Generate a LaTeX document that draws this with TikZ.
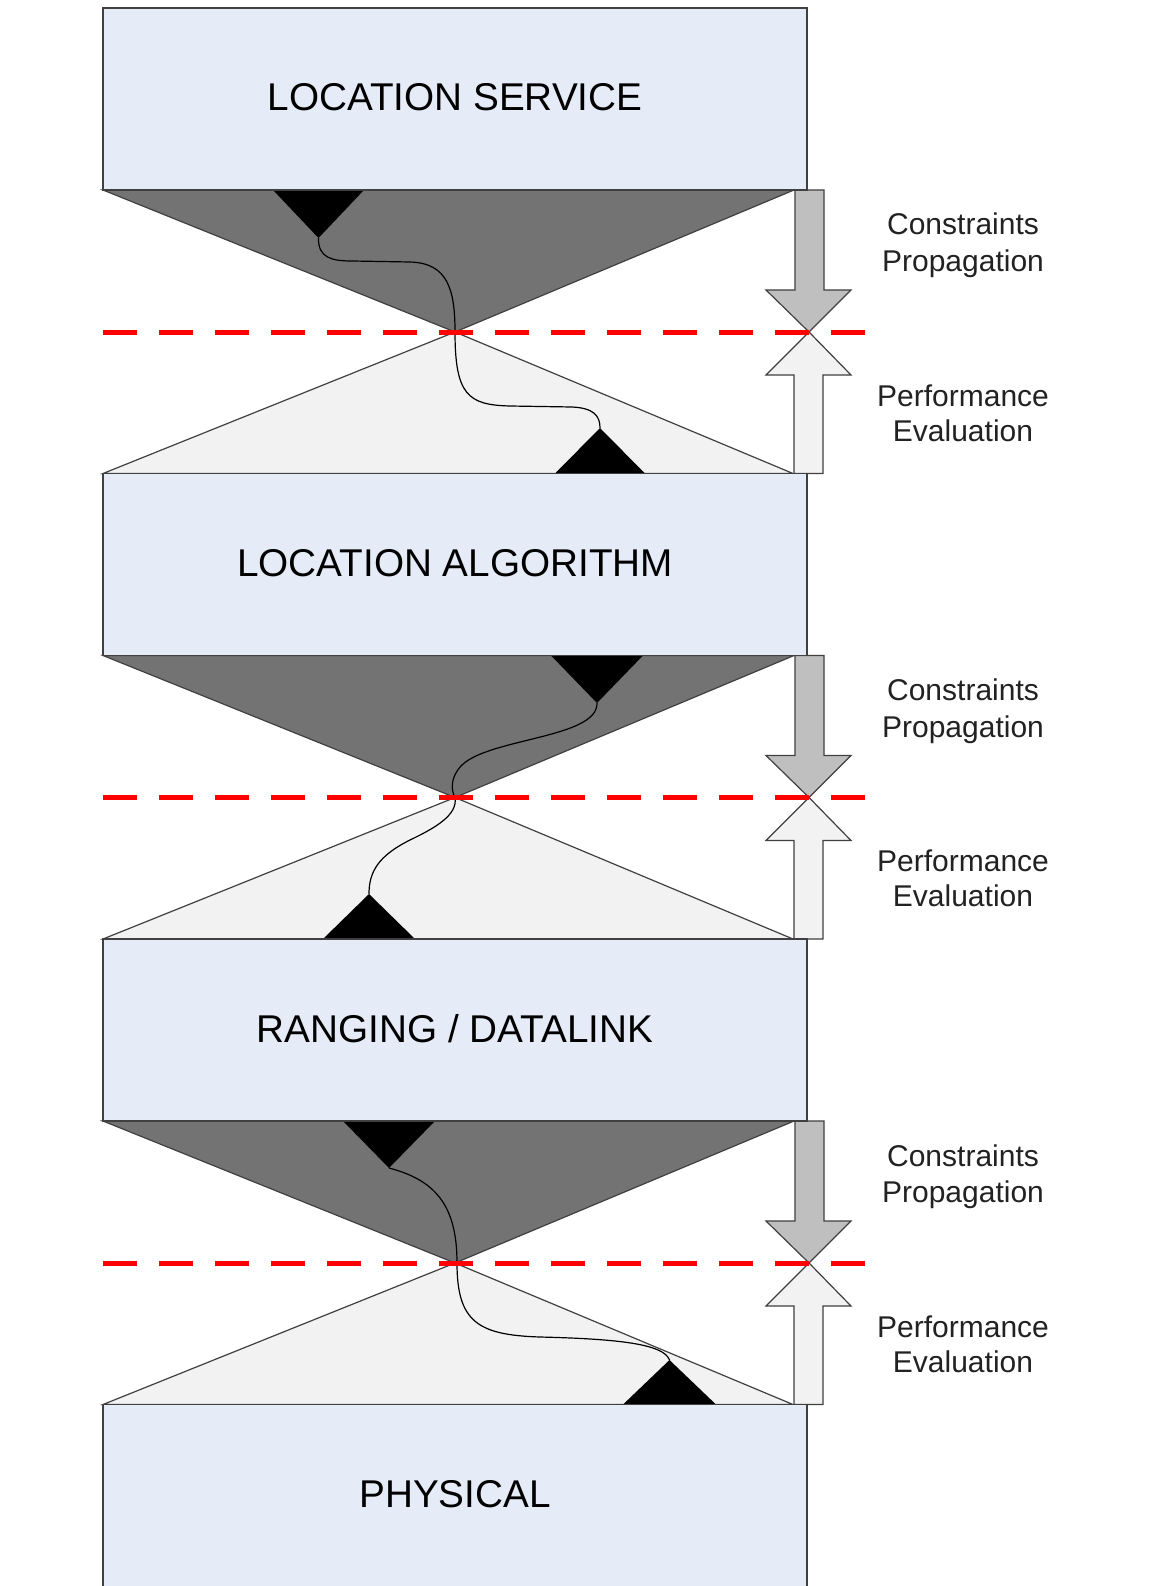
\documentclass[tikz,border=0pt]{standalone}
\usepackage{fontspec}
\setmainfont{Liberation Sans}
\definecolor{boxblue}{RGB}{230,236,247}
\definecolor{darktri}{RGB}{115,115,115}
\definecolor{lighttri}{RGB}{242,242,242}
\definecolor{downarr}{RGB}{191,191,191}
\definecolor{edgegray}{RGB}{64,64,64}
\definecolor{labelgray}{RGB}{34,34,34}
\tikzset{
  layerbox/.style={draw=edgegray, line width=1.5pt, fill=boxblue, rectangle, inner sep=0pt, minimum width=704pt, minimum height=182pt},
  layertext/.style={anchor=base, inner sep=0pt, font=\fontsize{38.7}{46}\selectfont, text=black},
  sidetext/.style={anchor=base, inner sep=0pt, font=\fontsize{30}{36}\selectfont, text=labelgray},
  darkfan/.style={draw=edgegray, line width=1.2pt, fill=darktri, line join=miter},
  lightfan/.style={draw=edgegray, line width=1.2pt, fill=lighttri, line join=miter},
  blacktri/.style={fill=black, draw=none},
  pathcurve/.style={draw=black, line width=1.2pt},
  downarrow/.style={draw=edgegray, line width=1.2pt, fill=downarr, line join=miter},
  uparrow/.style={draw=edgegray, line width=1.2pt, fill=lighttri, line join=miter},
  redline/.style={draw=red, line width=5pt, dash pattern=on 34pt off 22pt}
}
\begin{document}
\begin{tikzpicture}[x=1pt,y=-1pt]
\useasboundingbox (0,0) rectangle (1149,1586);
\clip (0,0) rectangle (1149,1586);
\fill[white] (0,0) rectangle (1149,1586);

% ---------- fans (triangles) ----------
% section 1
\path[darkfan] (103,190) -- (794,190) -- (455,332) -- cycle;
\path[lightfan] (455,332) -- (793,473.5) -- (103,473.5) -- cycle;
% section 2
\path[darkfan] (103,655.5) -- (794,655.5) -- (455,797.5) -- cycle;
\path[lightfan] (455,797.5) -- (793,939) -- (103,939) -- cycle;
% section 3
\path[darkfan] (103,1121) -- (794,1121) -- (455,1263) -- cycle;
\path[lightfan] (455,1263) -- (793,1404.5) -- (103,1404.5) -- cycle;

% ---------- black markers ----------
\path[blacktri] (273,190) -- (364,190) -- (318.5,238) -- cycle;
\path[blacktri] (555,473.5) -- (645,473.5) -- (600,428) -- cycle;
\path[blacktri] (551,655.5) -- (643,655.5) -- (597,703) -- cycle;
\path[blacktri] (323,939) -- (415,939) -- (369,894) -- cycle;
\path[blacktri] (343,1121) -- (435,1121) -- (389,1168) -- cycle;
\path[blacktri] (623,1404.5) -- (716,1404.5) -- (669.5,1360) -- cycle;

% ---------- curves ----------
\coordinate (c1a) at (318.5,238);
\coordinate (c1m) at (455,332);
\coordinate (c1b) at (600,428);
\draw[pathcurve] (c1a) .. controls (318,258) and (332,261) .. (352,261)
  -- (410,262) .. controls (448,263) and (455,290) .. (c1m)
  .. controls (455,395) and (468,405) .. (510,406)
  -- (572,407) .. controls (594,408) and (600,416) .. (c1b);

\coordinate (c2a) at (597,703);
\coordinate (c2m) at (455,797.5);
\coordinate (c2b) at (369,894);
\draw[pathcurve] (c2a) .. controls (598,738) and (490,738) .. (462,765)
  .. controls (450,777) and (451,790) .. (c2m)
  .. controls (458,815) and (435,828) .. (410,840)
  .. controls (378,856) and (369,872) .. (c2b);

\coordinate (c3a) at (389,1168);
\coordinate (c3m) at (457,1263);
\coordinate (c3b) at (669.5,1360);
\draw[pathcurve] (c3a) .. controls (435,1180) and (457,1205) .. (c3m)
  .. controls (457,1322) and (478,1335) .. (540,1337)
  .. controls (625,1339) and (664,1345) .. (c3b);

% ---------- arrows ----------
% section 1 (B=190, A=332, N=473.5)
\path[downarrow] (795,190) -- (824,190) -- (824,290) -- (851,290) -- (809,332) -- (766,290) -- (795,290) -- cycle;
\path[uparrow] (809,332) -- (851,375) -- (823,375) -- (823,473.5) -- (794,473.5) -- (794,375) -- (766,375) -- cycle;
% section 2 (B=655.5, A=797.5, N=939)
\path[downarrow] (795,655.5) -- (824,655.5) -- (824,755.5) -- (851,755.5) -- (809,797.5) -- (766,755.5) -- (795,755.5) -- cycle;
\path[uparrow] (809,797.5) -- (851,840.5) -- (823,840.5) -- (823,939) -- (794,939) -- (794,840.5) -- (766,840.5) -- cycle;
% section 3 (B=1121, A=1263, N=1404.5)
\path[downarrow] (795,1121) -- (824,1121) -- (824,1221) -- (851,1221) -- (809,1263) -- (766,1221) -- (795,1221) -- cycle;
\path[uparrow] (809,1263) -- (851,1306) -- (823,1306) -- (823,1404.5) -- (794,1404.5) -- (794,1306) -- (766,1306) -- cycle;

% ---------- layer boxes ----------
\node[layerbox] (box1) at (455,99) {};
\node[layerbox] (box2) at (455,564.5) {};
\node[layerbox] (box3) at (455,1030) {};
\node[layerbox, minimum height=200pt] (box4) at (455,1504.5) {};

\node[layertext] (t1) at (455,111) {LOCATION SERVICE};
\node[layertext] (t2) at (455,576.5) {LOCATION ALGORITHM};
\node[layertext] (t3) at (455,1042) {RANGING / DATALINK};
\node[layertext] (t4) at (455,1507.5) {PHYSICAL};

% ---------- red dashed lines ----------
\coordinate (r1l) at (103,332);   \coordinate (r1r) at (866,332);
\coordinate (r2l) at (103,797.5); \coordinate (r2r) at (866,797.5);
\coordinate (r3l) at (103,1263);  \coordinate (r3r) at (866,1263);
\draw[redline] (r1l) -- (r1r);
\draw[redline] (r2l) -- (r2r);
\draw[redline] (r3l) -- (r3r);

% ---------- side labels ----------
\node[sidetext] (cp1a) at (963,235) {Constraints};
\node[sidetext] (cp1b) at (963,271.7) {Propagation};
\node[sidetext] (pe1a) at (963,406) {Performance};
\node[sidetext] (pe1b) at (963,441) {Evaluation};

\node[sidetext] (cp2a) at (963,700.5) {Constraints};
\node[sidetext] (cp2b) at (963,737.2) {Propagation};
\node[sidetext] (pe2a) at (963,871.5) {Performance};
\node[sidetext] (pe2b) at (963,906.5) {Evaluation};

\node[sidetext] (cp3a) at (963,1166) {Constraints};
\node[sidetext] (cp3b) at (963,1202.7) {Propagation};
\node[sidetext] (pe3a) at (963,1337) {Performance};
\node[sidetext] (pe3b) at (963,1372) {Evaluation};
\end{tikzpicture}
\end{document}
